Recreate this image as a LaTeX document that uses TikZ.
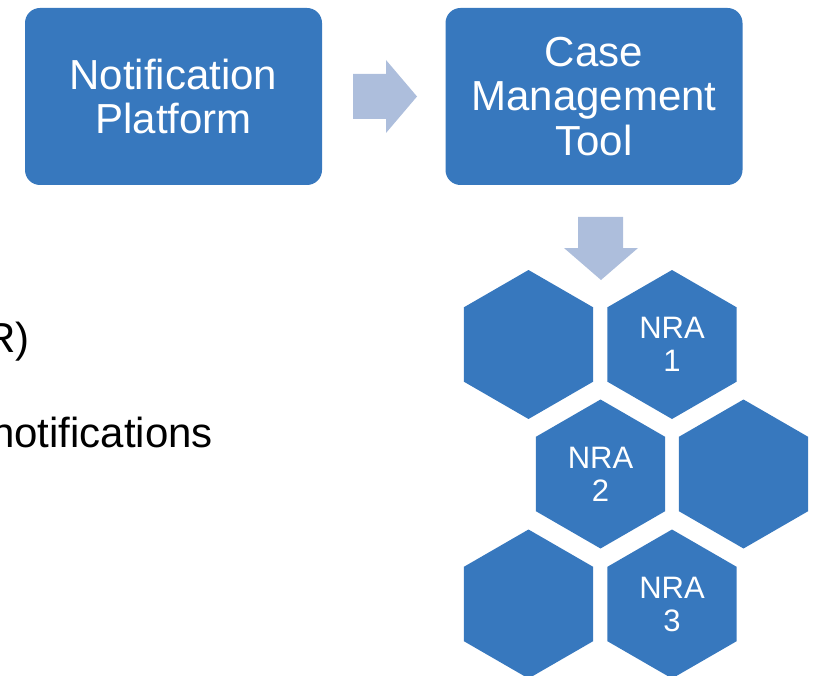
\documentclass[tikz,border=0pt]{standalone}
\usepackage{fontspec}
\setmainfont{Liberation Sans}
\usetikzlibrary{shapes.geometric}
\definecolor{boxblue}{RGB}{55,120,190}
\definecolor{arrowblue}{RGB}{173,190,220}

\begin{document}
\begin{tikzpicture}[x=1pt,y=-1pt,
	box/.style={rectangle,rounded corners=15pt,fill=boxblue,text=white,align=center,
		minimum width=297pt,minimum height=177pt,inner sep=0pt,
		font=\fontsize{42}{44.5}\selectfont},
	hexa/.style={regular polygon,regular polygon sides=6,shape border rotate=30,
		fill=boxblue,text=white,align=center,minimum size=149pt,inner sep=0pt,
		font=\fontsize{31}{33}\selectfont},
	sidetext/.style={anchor=base east,inner sep=0pt,font=\fontsize{42}{48}\selectfont}]
	\useasboundingbox (0,0) rectangle (818,676);
	\clip (0,0) rectangle (818,676);

	% left text, cut by the page edge
	\node[sidetext] (r) at (30,352) {R)};
	\node[sidetext] (notes) at (213,447) {notifications};

	% top boxes
	\node[box] (notif) at (173.5,96.5) {Notification\\Platform};
	\node[box] (case) at (594,96.5) {Case\\Management\\Tool};

	% block arrows
	\fill[arrowblue] (353,74) -- (386,74) -- (386,60) -- (417,96.5) -- (386,133)
		-- (386,119) -- (353,119) -- cycle;
	\fill[arrowblue] (578,217) -- (623,217) -- (623,248) -- (638,248) -- (601,280)
		-- (564,248) -- (578,248) -- cycle;

	% hexagons
	\node[hexa] (h1) at (528.5,344.5) {};
	\node[hexa] (nra1) at (672,344.5) {NRA\\1};
	\node[hexa] (nra2) at (600.5,474) {NRA\\2};
	\node[hexa] (h2) at (743.5,474) {};
	\node[hexa] (h3) at (528.5,604) {};
	\node[hexa] (nra3) at (672,604) {NRA\\3};
\end{tikzpicture}
\end{document}
